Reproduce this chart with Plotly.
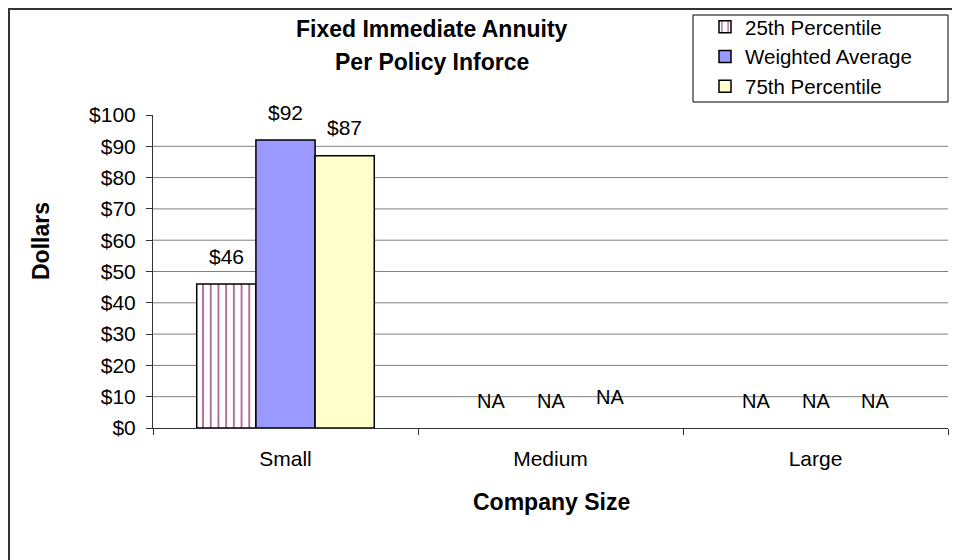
import plotly.graph_objects as go

categories = ["Small", "Medium", "Large"]
series_names = ["25th Percentile", "Weighted Average", "75th Percentile"]
p25 = [46, None, None]
wavg = [92, None, None]
p75 = [87, None, None]
series_values = [p25, wavg, p75]
y_ticks = [0, 10, 20, 30, 40, 50, 60, 70, 80, 90, 100]
y_tick_labels = ["$" + str(v) for v in y_ticks]

# page body has an 8px margin; figure is sized/placed to compensate
OFF = 8
W, H = 960 - OFF, 560 - OFF
L, R, T, B = 153 - OFF, 12, 115 - OFF, 132
PW, PH = W - L - R, H - T - B
BARGAP = 0.33
FONT = "Liberation Sans, Arial, sans-serif"


def px(x):
    """screen x -> paper"""
    return (x - OFF - L) / PW


def py(y):
    """screen y -> paper"""
    return (H - B - (y - OFF)) / PH


colors = ["white", "#9999FF", "#FFFFCC"]

fig = go.Figure()
for i, (name, vals) in enumerate(zip(series_names, series_values)):
    marker = dict(color=colors[i], line=dict(color="black", width=1.5))
    if i == 0:
        marker["pattern"] = dict(shape="|", fgcolor="#A3477F", bgcolor="white", fgopacity=1,
                                 size=7.7, solidity=0.2, fillmode="overlay")
    fig.add_trace(go.Bar(x=categories, y=vals, name=name, marker=marker))

cat_w = PW / len(categories)
bar_w = cat_w * (1 - BARGAP) / len(series_names)
annotations = []
for i, vals in enumerate(series_values):
    off = (i - (len(series_names) - 1) / 2) * bar_w
    for c, v in zip(categories, vals):
        if v is None:
            annotations.append(dict(x=c, y=8.3, xref="x", yref="y", text="NA", showarrow=False,
                                    xshift=off, yshift=(5 if (c == "Medium" and i == 2) else 1),
                                    font=dict(size=20, color="black", family=FONT)))
        else:
            annotations.append(dict(x=c, y=v, xref="x", yref="y", text="$" + str(v), showarrow=False,
                                    xshift=off, yshift=28, yanchor="middle",
                                    font=dict(size=21, color="black", family=FONT)))

BOLD = 23
annotations += [
    dict(x=px(432), y=py(29), xref="paper", yref="paper", text="<b>Fixed Immediate Annuity</b>",
         showarrow=False, xanchor="center", yanchor="middle", font=dict(size=BOLD, color="black", family=FONT)),
    dict(x=px(432), y=py(62), xref="paper", yref="paper", text="<b>Per Policy Inforce</b>",
         showarrow=False, xanchor="center", yanchor="middle", font=dict(size=BOLD, color="black", family=FONT)),
    dict(x=px(41), y=py(241), xref="paper", yref="paper", text="<b>Dollars</b>", textangle=-90,
         showarrow=False, xanchor="center", yanchor="middle", font=dict(size=BOLD, color="black", family=FONT)),
    dict(x=px(551), y=py(502), xref="paper", yref="paper", text="<b>Company Size</b>",
         showarrow=False, xanchor="center", yanchor="middle", font=dict(size=BOLD, color="black", family=FONT)),
]

shapes = []
for v in y_ticks[1:-1]:
    shapes.append(dict(type="line", xref="paper", yref="y", x0=0, x1=1, y0=v, y1=v,
                       line=dict(color="#808080", width=1), layer="below"))
# chart border (top/left as close to the page edge as the figure allows)
shapes.append(dict(type="rect", xref="paper", yref="paper", x0=px(9), x1=px(975), y0=py(9), y1=py(575),
                   line=dict(color="#333333", width=2), fillcolor="rgba(0,0,0,0)"))
# legend box
shapes.append(dict(type="rect", xref="paper", yref="paper", x0=px(693), x1=px(948), y0=py(15), y1=py(102),
                   line=dict(color="black", width=1), fillcolor="rgba(0,0,0,0)"))

fig.update_layout(
    width=W, height=H,
    margin=dict(l=L, r=R, t=T, b=B, pad=0, autoexpand=False),
    paper_bgcolor="white", plot_bgcolor="white",
    barmode="group", bargap=BARGAP, bargroupgap=0,
    font=dict(family=FONT, size=20, color="black"),
    showlegend=True,
    legend=dict(x=px(705), y=py(7), xanchor="left", yanchor="top", bgcolor="rgba(0,0,0,0)",
                borderwidth=0, font=dict(size=20.5, family=FONT, color="black"),
                itemclick=False, tracegroupgap=0),
    xaxis=dict(type="category", range=[-0.5, 2.5], showline=True, linecolor="#333333", linewidth=1,
               ticks="outside", tickson="boundaries", ticklen=6, tickcolor="#333333",
               showgrid=False, ticklabelstandoff=12, tickfont=dict(size=21)),
    yaxis=dict(range=[0, 100], tickvals=y_ticks, ticktext=y_tick_labels, showline=True,
               linecolor="#333333", linewidth=1, ticks="outside", ticklen=6, tickcolor="#333333",
               showgrid=False, zeroline=False, ticklabelstandoff=6, tickfont=dict(size=21)),
    annotations=annotations,
    shapes=shapes,
)

fig.write_html("out.html")
